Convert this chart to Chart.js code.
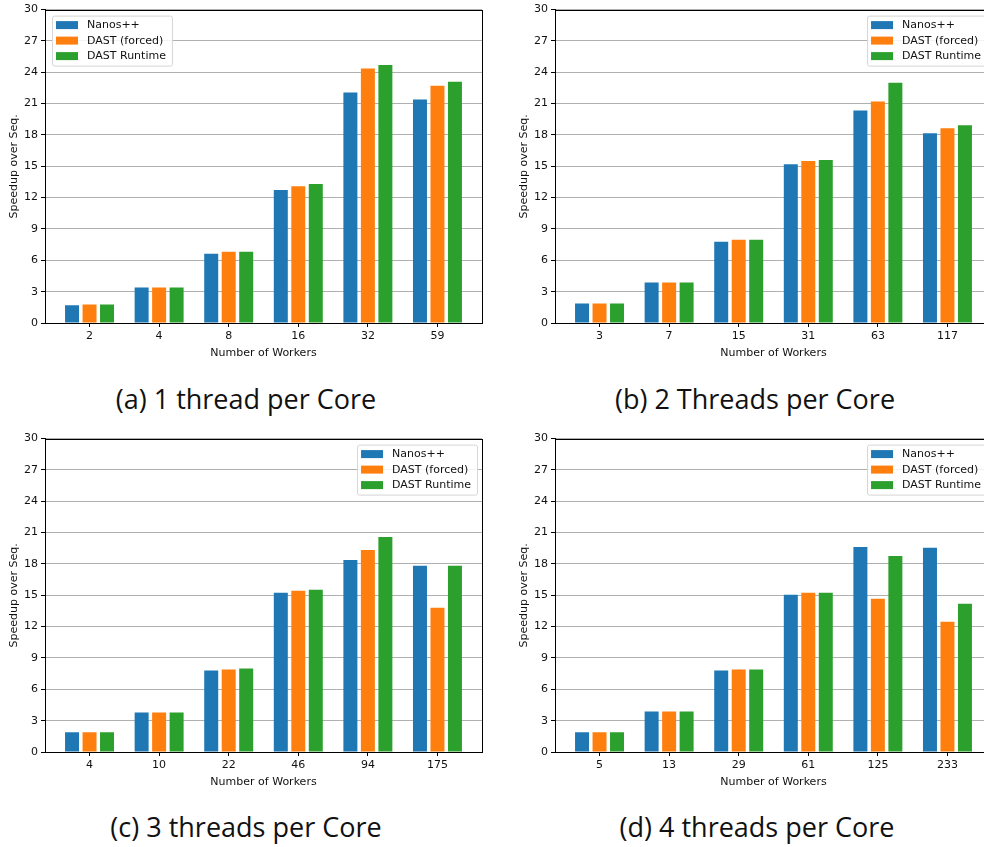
<!DOCTYPE html>
<html>
<head>
<meta charset="utf-8">
<script src="https://cdn.jsdelivr.net/npm/chart.js@4"></script>
<style>
  html, body { margin: 0; padding: 0; background: #fff; overflow: hidden; }
  #page { position: relative; width: 984px; height: 847px; overflow: hidden; }
  canvas { position: absolute; }
  .cap {
    position: absolute; width: 400px; text-align: center;
    font-family: "Open Sans", Lato, sans-serif; font-size: 27px; color: #111;
    line-height: 30px; white-space: nowrap;
  }
</style>
</head>
<body>
<div id="page">
  <canvas id="chartA" width="490" height="360" style="left:0;top:0"></canvas>
  <canvas id="chartB" width="490" height="360" style="left:510px;top:0"></canvas>
  <canvas id="chartC" width="490" height="360" style="left:0;top:429px"></canvas>
  <canvas id="chartD" width="490" height="360" style="left:510px;top:429px"></canvas>
  <div class="cap" style="left:46px;top:384px">(a) 1 thread per Core</div>
  <div class="cap" style="left:555px;top:384px">(b) 2 Threads per Core</div>
  <div class="cap" style="left:46px;top:812px">(c) 3 threads per Core</div>
  <div class="cap" style="left:557px;top:812px">(d) 4 threads per Core</div>
</div>
<script>
// values
const seriesNames = ['Nanos++', 'DAST (forced)', 'DAST Runtime'];
const seriesColors = ['#1f77b4', '#ff7f0e', '#2ca02c'];
const yTicks = [0, 3, 6, 9, 12, 15, 18, 21, 24, 27, 30];

const workersA = ['2', '4', '8', '16', '32', '59'];
const nanosA   = [1.69, 3.4, 6.64, 12.73, 22.07, 21.4];
const forcedA  = [1.78, 3.4, 6.83, 13.1, 24.35, 22.7];
const runtimeA = [1.78, 3.4, 6.83, 13.3, 24.7, 23.1];

const workersB = ['3', '7', '15', '31', '63', '117'];
const nanosB   = [1.87, 3.88, 7.78, 15.2, 20.35, 18.16];
const forcedB  = [1.87, 3.88, 7.97, 15.5, 21.2, 18.64];
const runtimeB = [1.87, 3.88, 7.97, 15.6, 23.0, 18.93];

const workersC = ['4', '10', '22', '46', '94', '175'];
const nanosC   = [1.88, 3.79, 7.8, 15.24, 18.39, 17.82];
const forcedC  = [1.88, 3.79, 7.89, 15.43, 19.34, 13.81];
const runtimeC = [1.88, 3.79, 7.99, 15.53, 20.59, 17.82];

const workersD = ['5', '13', '29', '61', '125', '233'];
const nanosD   = [1.88, 3.88, 7.8, 15.05, 19.63, 19.54];
const forcedD  = [1.88, 3.88, 7.89, 15.24, 14.67, 12.47];
const runtimeD = [1.88, 3.88, 7.89, 15.24, 18.77, 14.19];

const tickFont = { family: 'DejaVu Sans', size: 11 };

// legend drawn inside the plot area, like matplotlib
const innerLegend = {
  id: 'innerLegend',
  afterDatasetsDraw(chart, args, opts) {
    const ctx = chart.ctx;
    const area = chart.chartArea;
    const items = chart.data.datasets;
    ctx.save();
    ctx.font = '11px "DejaVu Sans"';
    const tw = Math.max(...items.map(d => ctx.measureText(d.label).width));
    const w = 35 + tw + 6, h = 50;
    const x = opts.side === 'left' ? area.left + 7 : area.right - 5 - w;
    const y = area.top + 6;
    ctx.beginPath();
    ctx.roundRect(x + 0.5, y + 0.5, w, h, 2);
    ctx.fillStyle = 'rgba(255,255,255,0.85)';
    ctx.fill();
    ctx.strokeStyle = '#d6d6d6';
    ctx.lineWidth = 1;
    ctx.stroke();
    ctx.textBaseline = 'middle';
    items.forEach((d, i) => {
      const cy = y + 9.5 + i * 15.5;
      ctx.fillStyle = d.backgroundColor;
      ctx.fillRect(x + 4, cy - 4, 22, 8);
      ctx.fillStyle = '#111';
      ctx.fillText(d.label, x + 35, cy + 0.5);
    });
    ctx.restore();
  }
};

// top and right spines
const boxFrame = {
  id: 'boxFrame',
  afterDraw(chart) {
    const ctx = chart.ctx, a = chart.chartArea;
    ctx.save();
    ctx.strokeStyle = '#000';
    ctx.lineWidth = 1;
    ctx.strokeRect(Math.round(a.left) + 0.5, Math.round(a.top) + 0.5,
      Math.round(a.right - a.left), Math.round(a.bottom - a.top));
    ctx.restore();
  }
};

function makeChart(id, workers, nanos, forced, runtime, side) {
  const series = [nanos, forced, runtime];
  new Chart(document.getElementById(id), {
    type: 'bar',
    data: {
      datasets: series.map((vals, s) => ({
        label: seriesNames[s],
        data: vals.map((v, i) => ({ x: i, y: v })),
        backgroundColor: seriesColors[s],
        borderWidth: 0,
        barPercentage: 0.8,
        categoryPercentage: 0.754
      }))
    },
    options: {
      responsive: false,
      animation: false,
      events: [],
      layout: { padding: { top: 8, right: 8, left: 0, bottom: 0 } },
      plugins: {
        legend: { display: false },
        tooltip: { enabled: false },
        innerLegend: { side: side }
      },
      scales: {
        x: {
          type: 'linear',
          min: -0.64,
          max: 5.64,
          offset: false,
          afterFit: (scale) => { scale.height = 37; },
          afterBuildTicks: (scale) => { scale.ticks = workers.map((w, i) => ({ value: i })); },
          ticks: {
            autoSkip: false,
            maxRotation: 0,
            padding: 3,
            color: '#111',
            font: tickFont,
            callback: (v) => workers[v] !== undefined ? workers[v] : ''
          },
          grid: { offset: false, drawOnChartArea: false, drawTicks: true, tickLength: 4, tickColor: '#000' },
          border: { color: '#000', width: 1 },
          title: {
            display: true,
            text: 'Number of Workers',
            color: '#111',
            font: tickFont,
            padding: { top: 4, bottom: 0 }
          }
        },
        y: {
          min: 0,
          max: 30,
          afterFit: (scale) => { scale.width = 45; },
          afterBuildTicks: (scale) => { scale.ticks = yTicks.map(v => ({ value: v })); },
          ticks: { padding: 3, color: '#111', font: tickFont },
          grid: { color: '#b0b0b0', lineWidth: 1, tickLength: 4, tickColor: '#000' },
          border: { color: '#000', width: 1 },
          title: {
            display: true,
            text: 'Speedup over Seq.',
            color: '#111',
            font: tickFont,
            padding: { top: 8, bottom: 0 }
          }
        }
      }
    },
    plugins: [innerLegend, boxFrame]
  });
}

makeChart('chartA', workersA, nanosA, forcedA, runtimeA, 'left');
makeChart('chartB', workersB, nanosB, forcedB, runtimeB, 'right');
makeChart('chartC', workersC, nanosC, forcedC, runtimeC, 'right');
makeChart('chartD', workersD, nanosD, forcedD, runtimeD, 'right');
</script>
</body>
</html>
